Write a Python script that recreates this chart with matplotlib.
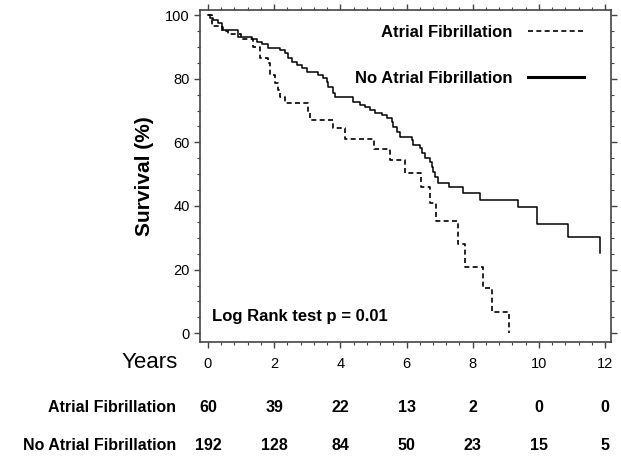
import matplotlib

matplotlib.use("Agg")
import matplotlib.pyplot as plt
import matplotlib.transforms as mtransforms
from matplotlib.lines import Line2D
from matplotlib.ticker import MultipleLocator

plt.rcParams["font.family"] = ["Liberation Sans", "DejaVu Sans"]

# Kaplan-Meier step data (years, % surviving)
af_time = [0, 0.12, 0.42, 0.60, 1.0, 1.36, 1.57, 1.81, 1.87, 2.02, 2.11, 2.17, 2.33, 3.02,
           3.08, 3.78, 4.14, 5.02, 5.50, 5.95, 6.44, 6.70, 6.90, 7.57, 7.76, 8.30, 8.58, 9.10]
af_surv = [100, 96.7, 95.0, 94.0, 92.5, 89.9, 86.5, 84.9, 81.1, 78.6, 76.4, 74.2, 72.3, 69.2,
           67.0, 64.5, 61.0, 57.8, 54.4, 50.3, 45.9, 40.9, 35.2, 28.0, 20.8, 14.2, 6.6, 0.0]

noaf_time = [0, 0.06, 0.15, 0.30, 0.42, 0.45, 0.91, 1.33, 1.48, 1.63, 1.81, 2.18, 2.33, 2.42,
             2.54, 2.69, 2.84, 2.99, 3.32, 3.47, 3.60, 3.63, 3.78, 3.84, 4.38, 4.59, 4.74, 4.89,
             5.05, 5.26, 5.41, 5.56, 5.59, 5.71, 5.80, 6.16, 6.19, 6.40, 6.47, 6.56, 6.71, 6.77,
             6.80, 6.86, 6.95, 7.28, 7.70, 8.22, 9.36, 9.94, 10.88, 11.84]
noaf_surv = [100, 99, 98.4, 97.5, 96.2, 95.3, 93.0, 92.4, 91.5, 91.0, 89.6, 89.0, 88.0, 86.5,
             85.2, 84.3, 83.3, 82.0, 81.1, 80.2, 78.9, 77.4, 75.5, 74.2, 72.6, 71.7, 71.1, 70.1,
             69.2, 68.6, 67.6, 66.4, 64.8, 63.2, 61.6, 60.7, 59.1, 58.2, 56.6, 55.0, 53.8, 52.2,
             50.6, 49.1, 47.3, 45.9, 44.1, 42.0, 39.6, 34.3, 30.2, 25.2]

# numbers at risk
risk_years = [0, 2, 4, 6, 8, 10, 12]
af_risk = [60, 39, 22, 13, 2, 0, 0]
noaf_risk = [192, 128, 84, 50, 23, 15, 5]

labels = ["Atrial Fibrillation", "No Atrial Fibrillation"]

fig = plt.figure(figsize=(6.21, 4.58), dpi=100)
ax = fig.add_axes([0.322, 0.253, 0.662, 0.725])

dash = (0, (3, 2))
ax.step(af_time, af_surv, where="post", color="black", lw=1.2, linestyle=dash)
ax.step(noaf_time, noaf_surv, where="post", color="black", lw=1.1)

ax.set_xlim(-0.24, 12.18)
ax.set_ylim(-2.8, 101.6)
ax.xaxis.set_major_locator(MultipleLocator(2))
ax.xaxis.set_minor_locator(MultipleLocator(0.4))
ax.yaxis.set_major_locator(MultipleLocator(20))
ax.yaxis.set_minor_locator(MultipleLocator(5))
ax.tick_params(which="both", direction="out", top=True, right=True, colors="#444",
               labelcolor="black", labelsize=10.5)
ax.tick_params(which="major", length=4, width=1)
ax.tick_params(which="minor", length=2.5, width=0.8)
ax.tick_params(axis="x", pad=7)
for sp in ax.spines.values():
    sp.set_color("#444")
    sp.set_linewidth(1.2)

ax.set_ylabel("Survival (%)", fontsize=15, fontweight="bold", labelpad=8)

handles = [Line2D([], [], color="black", lw=1.2, linestyle=dash),
           Line2D([], [], color="black", lw=2.2)]
ax.legend(handles, labels, loc="upper right", bbox_to_anchor=(0.935, 0.955),
          frameon=False, markerfirst=False, handlelength=3.4, handletextpad=0.9,
          labelspacing=1.85, borderpad=0, borderaxespad=0,
          prop={"size": 12, "weight": "bold"})

ax.text(0.03, 0.078, "Log Rank test p = 0.01", transform=ax.transAxes,
        fontsize=12, fontweight="bold", va="center", ha="left")

# risk table under the axis
fig.text(178 / 621, 1 - 363 / 458, "Years", fontsize=16, ha="right", va="center")
blend = mtransforms.blended_transform_factory(ax.transData, fig.transFigure)
rows = [(af_risk, 407), (noaf_risk, 446)]
for lab, (counts, ypx) in zip(labels, rows):
    yf = 1 - ypx / 458
    fig.text(176 / 621, yf, lab, fontsize=11.5, fontweight="bold", ha="right", va="center")
    for yr, n in zip(risk_years, counts):
        ax.text(yr, yf, str(n), transform=blend, fontsize=11.5, fontweight="bold",
                ha="center", va="center", clip_on=False)

fig.savefig("out.png", dpi=100)
